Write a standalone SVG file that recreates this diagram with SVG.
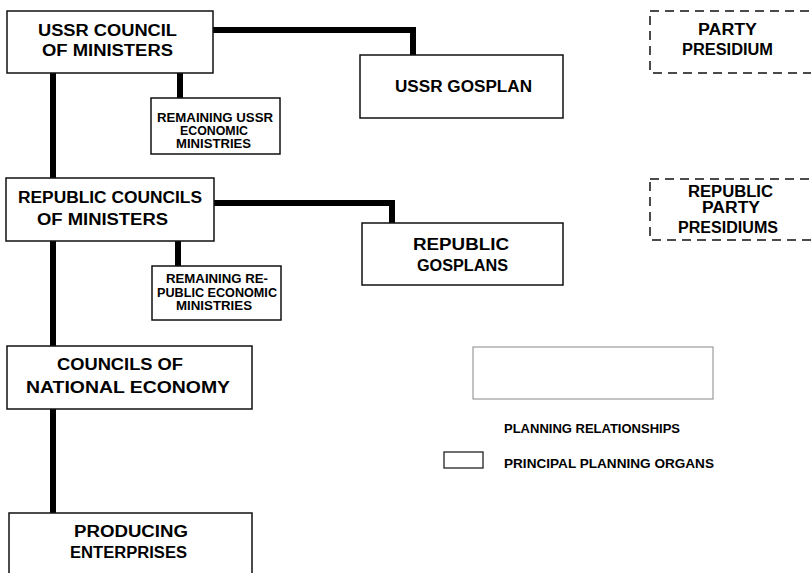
<svg xmlns="http://www.w3.org/2000/svg" width="811" height="573" viewBox="0 0 811 573">
<style>
.box{fill:#fff;stroke:#111;stroke-width:1.5}
.dash{fill:none;stroke:#111;stroke-width:1.5;stroke-dasharray:9,6}
.conn{fill:none;stroke:#000;stroke-width:6;stroke-linejoin:miter}
text{font-family:"Liberation Sans",Arial,sans-serif;font-weight:bold;fill:#000}
.big{font-size:16px}
.sm{font-size:12px}
</style>
<rect width="811" height="573" fill="#fff"/>
<g id="connectors">
<polyline class="conn" points="213,30 413,30 413,55"/>
<line class="conn" x1="53" y1="73" x2="53" y2="178"/>
<line class="conn" x1="180" y1="73" x2="180" y2="98"/>
<polyline class="conn" points="214,203 392,203 392,223"/>
<line class="conn" x1="53" y1="241" x2="53" y2="346"/>
<line class="conn" x1="178" y1="241" x2="178" y2="266"/>
<line class="conn" x1="53" y1="409" x2="53" y2="513"/>
</g>
<g id="ussr-council">
<rect class="box" x="7" y="11" width="206" height="62"/>
<text class="big" x="38" y="36" textLength="139" lengthAdjust="spacingAndGlyphs">USSR  COUNCIL</text>
<text class="big" x="42" y="56" textLength="131" lengthAdjust="spacingAndGlyphs">OF  MINISTERS</text>
</g>
<g id="ussr-gosplan">
<rect class="box" x="360" y="55" width="203" height="63"/>
<text class="big" x="395" y="92" textLength="137" lengthAdjust="spacingAndGlyphs">USSR  GOSPLAN</text>
</g>
<g id="remaining-ussr">
<rect class="box" x="151" y="98" width="129" height="56"/>
<text class="sm" x="157" y="122" textLength="116" lengthAdjust="spacingAndGlyphs">REMAINING USSR</text>
<text class="sm" x="180" y="135" textLength="68" lengthAdjust="spacingAndGlyphs">ECONOMIC</text>
<text class="sm" x="176" y="148" textLength="75" lengthAdjust="spacingAndGlyphs">MINISTRIES</text>
</g>
<g id="party-presidium">
<rect class="dash" x="650" y="11" width="170" height="62"/>
<text class="big" x="698" y="35" textLength="59" lengthAdjust="spacingAndGlyphs">PARTY</text>
<text class="big" x="682" y="55" textLength="91" lengthAdjust="spacingAndGlyphs">PRESIDIUM</text>
</g>
<g id="republic-councils">
<rect class="box" x="6" y="178" width="208" height="63"/>
<text class="big" x="18" y="203" textLength="184" lengthAdjust="spacingAndGlyphs">REPUBLIC COUNCILS</text>
<text class="big" x="37" y="225" textLength="131" lengthAdjust="spacingAndGlyphs">OF  MINISTERS</text>
</g>
<g id="republic-gosplans">
<rect class="box" x="362" y="223" width="201" height="62"/>
<text class="big" x="413" y="250" textLength="96" lengthAdjust="spacingAndGlyphs">REPUBLIC</text>
<text class="big" x="417" y="271" textLength="91" lengthAdjust="spacingAndGlyphs">GOSPLANS</text>
</g>
<g id="republic-party-presidiums">
<rect class="dash" x="650" y="179" width="170" height="61"/>
<text class="big" x="688" y="197" textLength="85" lengthAdjust="spacingAndGlyphs">REPUBLIC</text>
<text class="big" x="702" y="213" textLength="58" lengthAdjust="spacingAndGlyphs">PARTY</text>
<text class="big" x="678" y="233" textLength="100" lengthAdjust="spacingAndGlyphs">PRESIDIUMS</text>
</g>
<g id="remaining-republic">
<rect class="box" x="152" y="266" width="129" height="54"/>
<text class="sm" x="166" y="283" textLength="102" lengthAdjust="spacingAndGlyphs">REMAINING RE-</text>
<text class="sm" x="157" y="297" textLength="120" lengthAdjust="spacingAndGlyphs">PUBLIC ECONOMIC</text>
<text class="sm" x="176" y="310" textLength="76" lengthAdjust="spacingAndGlyphs">MINISTRIES</text>
</g>
<g id="councils-national-economy">
<rect class="box" x="7" y="346" width="245" height="63"/>
<text class="big" x="57" y="370" textLength="126" lengthAdjust="spacingAndGlyphs">COUNCILS  OF</text>
<text class="big" x="26" y="393" textLength="204" lengthAdjust="spacingAndGlyphs">NATIONAL  ECONOMY</text>
</g>
<g id="producing-enterprises">
<rect class="box" x="9" y="513" width="243" height="70"/>
<text class="big" x="74" y="537" textLength="114" lengthAdjust="spacingAndGlyphs">PRODUCING</text>
<text class="big" x="70" y="558" textLength="117" lengthAdjust="spacingAndGlyphs">ENTERPRISES</text>
</g>
<g id="legend">
<rect x="473" y="347" width="240" height="52" fill="none" stroke="#888" stroke-width="1"/>
<text class="sm" x="504" y="433" textLength="176" lengthAdjust="spacingAndGlyphs">PLANNING  RELATIONSHIPS</text>
<rect x="444" y="452" width="39" height="16" fill="none" stroke="#222" stroke-width="1.3"/>
<text class="sm" x="504" y="468" textLength="210" lengthAdjust="spacingAndGlyphs">PRINCIPAL  PLANNING  ORGANS</text>
</g>
</svg>
